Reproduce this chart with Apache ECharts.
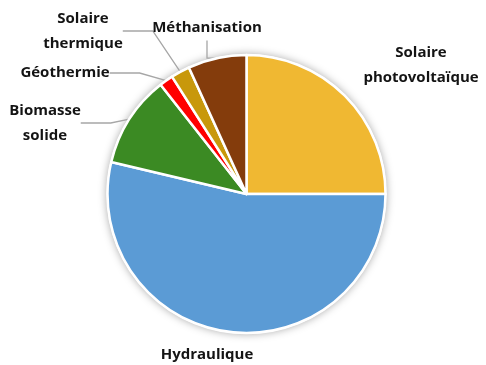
<!DOCTYPE html>
<html>
<head>
<meta charset="utf-8">
<script src="https://cdn.jsdelivr.net/npm/echarts@6/dist/echarts.min.js"></script>
<style>
  html, body { margin: 0; padding: 0; background: #fff; }
  #chart { width: 486px; height: 365px; }
</style>
</head>
<body>
<div id="chart"></div>
<script>
// parts of production, %
const categories = ['Solaire\nphotovoltaïque', 'Hydraulique', 'Biomasse\nsolide', 'Géothermie', 'Solaire\nthermique', 'Méthanisation'];
const values = [25.0, 53.7, 10.7, 1.6, 2.2, 6.8];
const colors = ['#F0B832', '#5B9BD5', '#3B8A23', '#FF0000', '#C8980B', '#843C0C'];
const withLine = [false, false, true, true, true, true];

// where each label sits (centre x, centre y)
const labelPos = [
  [421, 65],
  [207, 355],
  [45, 123],
  [65, 73],
  [83, 31],
  [207, 28],
];

const chart = echarts.init(document.getElementById('chart'));

const option = {
  animation: false,
  series: [
    {
      // soft shadow behind the pie
      type: 'pie',
      silent: true,
      center: [246.5, 194],
      radius: 140,
      label: { show: false },
      labelLine: { show: false },
      itemStyle: {
        color: '#fff',
        shadowBlur: 8,
        shadowColor: 'rgba(0,0,0,0.35)',
      },
      data: [1],
      z: 1,
    },
    {
      type: 'pie',
      center: [246.5, 194],
      radius: 139,
      startAngle: 90,
      clockwise: true,
      avoidLabelOverlap: false,
      itemStyle: {
        borderColor: '#fff',
        borderWidth: 2.5,
      },
      label: {
        show: true,
        position: 'outside',
        alignTo: 'none',
        overflow: 'none',
        fontFamily: 'Open Sans',
        fontWeight: 'bold',
        fontSize: 15,
        lineHeight: 25,
        color: '#141414',
        formatter: (p) => p.name,
      },
      labelLine: {
        show: true,
        lineStyle: { color: '#a6a6a6', width: 1.3 },
      },
      labelLayout: (p) => {
        const pos = labelPos[p.dataIndex];
        return {
          x: pos[0],
          y: pos[1],
          align: 'center',
          verticalAlign: 'middle',
        };
      },
      data: categories.map((c, i) => ({
        name: c,
        value: values[i],
        itemStyle: { color: colors[i] },
        label: { align: 'center' },
        labelLine: { show: withLine[i] },
      })),
      z: 2,
    },
  ],
};

chart.setOption(option);
</script>
</body>
</html>
